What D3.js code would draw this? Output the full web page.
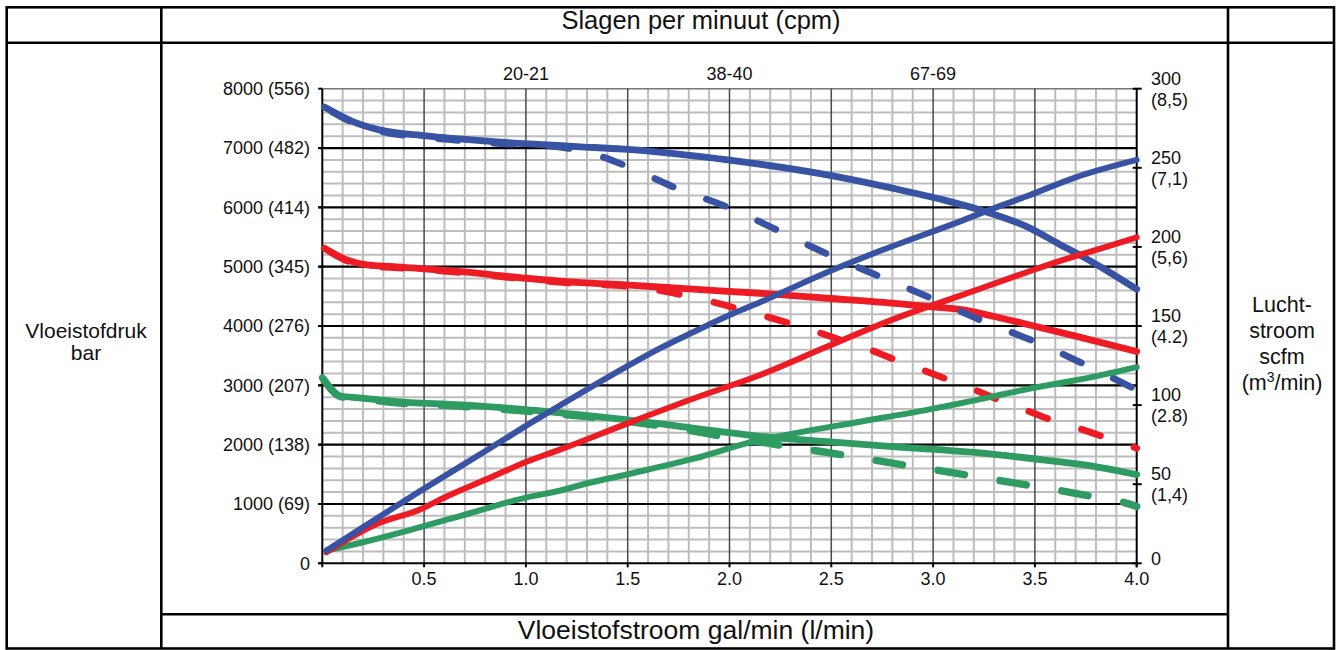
<!DOCTYPE html>
<html>
<head>
<meta charset="utf-8">
<script src="https://cdn.jsdelivr.net/npm/d3@7"></script>
<style>
  html, body { margin: 0; padding: 0; background: #fff; }
  svg { display: block; }
  text { font-family: "Liberation Sans", Arial, Helvetica, sans-serif; fill: #111; }
</style>
</head>
<body>
<svg id="chart" width="1336" height="650"></svg>
<script>
// ---------------- DATA ----------------
const flowTicks = [0.5, 1.0, 1.5, 2.0, 2.5, 3.0, 3.5, 4.0];
const flowTickLabels = ["0.5", "1.0", "1.5", "2.0", "2.5", "3.0", "3.5", "4.0"];
const pressureTicks = [0, 1000, 2000, 3000, 4000, 5000, 6000, 7000, 8000];
const pressureTickLabels = ["0", "1000 (69)", "2000 (138)", "3000 (207)", "4000 (276)",
  "5000 (345)", "6000 (414)", "7000 (482)", "8000 (556)"];
const airTicks = [0, 50, 100, 150, 200, 250, 300];
const airTickLabels = [["0"], ["50", "(1,4)"], ["100", "(2.8)"], ["150", "(4.2)"],
  ["200", "(5,6)"], ["250", "(7,1)"], ["300", "(8,5)"]];
const cpmPositions = [1.0, 2.0, 3.0];
const cpmLabels = ["20-21", "38-40", "67-69"];

const topTitle = "Slagen per minuut (cpm)";
const bottomTitle = "Vloeistofstroom gal/min (l/min)";
const leftTitle = ["Vloeistofdruk", "bar"];
const rightTitle = ["Lucht-", "stroom", "scfm"];

// fluid pressure (psi) vs flow (gal/min) — solid
const bluePressure = [[0.01,7690],[0.15,7446],[0.28,7306],[0.51,7205],[0.84,7109],[1.25,7024],[1.48,6980],[1.99,6800],[2.48,6547],[2.80,6323],[3.05,6126],[3.23,5957],[3.46,5675],[3.62,5380],[3.75,5140],[3.85,4940],[4.0,4620]];
const redPressure = [[0.01,5310],[0.12,5114],[0.22,5030],[0.35,5000],[0.68,4917],[1.0,4805],[1.27,4730],[1.49,4692],[1.82,4620],[2.15,4552],[2.48,4468],[2.80,4384],[2.97,4330],[3.13,4280],[3.3,4160],[3.46,4030],[3.7,3830],[4.0,3570]];
const greenPressure = [[0.0,3130],[0.09,2820],[0.18,2790],[0.35,2730],[0.68,2669],[1.0,2590],[1.27,2500],[1.49,2420],[1.82,2280],[2.15,2140],[2.48,2050],[2.80,1965],[3.23,1860],[3.46,1775],[3.79,1635],[4.0,1495]];

// fluid pressure — dashed
const blueDashed = [[0.01,7690],[0.15,7430],[0.28,7285],[0.51,7180],[0.84,7085],[1.2,7000],[1.37,6856],[1.5,6688],[1.74,6323],[2.0,5991],[2.25,5591],[2.49,5199],[2.74,4832],[2.99,4468],[3.23,4103],[3.5,3736],[3.75,3344],[4.0,2922]];
const redDashed = [[0.01,5310],[0.12,5100],[0.22,5010],[0.35,4985],[0.68,4900],[1.0,4790],[1.27,4710],[1.49,4670],[1.64,4608],[1.77,4520],[1.90,4420],[2.04,4290],[2.17,4170],[2.30,4040],[2.43,3900],[2.55,3760],[2.69,3600],[2.80,3450],[2.94,3270],[3.07,3100],[3.20,2930],[3.32,2760],[3.45,2590],[3.57,2430],[3.71,2280],[3.83,2140],[4.0,1940]];
const greenDashed = [[0.0,3130],[0.09,2810],[0.18,2775],[0.35,2710],[0.68,2645],[1.0,2565],[1.27,2480],[1.49,2395],[1.79,2248],[1.95,2150],[2.12,2060],[2.25,1990],[2.41,1905],[2.56,1825],[2.70,1745],[2.85,1660],[3.02,1570],[3.16,1490],[3.31,1405],[3.46,1320],[3.61,1235],[3.76,1140],[3.92,1040],[4.0,960]];

// air flow (scfm) vs fluid flow
const blueAir = [[0.02,8],[0.51,48],[0.84,74],[1.04,90],[1.17,100],[1.49,124],[1.66,136],[1.82,146],[2.02,158],[2.15,165],[2.48,184],[2.75,198],[3.13,216],[3.29,224],[3.46,232],[3.70,244],[4.0,255]];
const redAir = [[0.02,7],[0.27,25],[0.48,34],[0.59,41],[0.84,55],[1.0,64],[1.17,72],[1.49,88],[1.82,104],[2.15,119],[2.48,137],[2.80,154],[3.13,169],[3.46,184],[3.62,191],[3.85,200],[4.0,206]];
const greenAir = [[0.02,8],[0.19,13],[0.43,21],[0.68,30],[1.0,41.5],[1.17,46],[1.27,49.5],[1.49,56],[1.82,66],[2.15,78],[2.31,82],[2.64,89.5],[2.97,97],[3.13,101],[3.46,110],[3.79,118],[4.0,124]];

// flow value where a visible dash begins
const dashStarts = [1.365, 1.64, 1.79];

// ---------------- DRAW ----------------
const svg = d3.select("#chart");
const colors = { blue: "#3953a4", red: "#ed1c24", green: "#2e9b63" };

const x = d3.scaleLinear().domain([0, 4]).range([322.3, 1136.7]);
const y = d3.scaleLinear().domain([0, 8000]).range([563.3, 88.7]);
const yR = d3.scaleLinear().domain([0, 300]).range([563.3, 88.7]);

// table frame
const frame = svg.append("g").attr("stroke", "#000").attr("stroke-width", 2.6).attr("fill", "none");
frame.append("rect").attr("x", 6.7).attr("y", 7.3).attr("width", 1327.3).attr("height", 641.2);
frame.append("line").attr("x1", 161.3).attr("x2", 161.3).attr("y1", 7.3).attr("y2", 648.5);
frame.append("line").attr("x1", 1228).attr("x2", 1228).attr("y1", 7.3).attr("y2", 648.5);
frame.append("line").attr("x1", 6.7).attr("x2", 1334).attr("y1", 42.7).attr("y2", 42.7);
frame.append("line").attr("x1", 161.3).attr("x2", 1228).attr("y1", 614.3).attr("y2", 614.3);

// titles
svg.append("text").attr("x", 701).attr("y", 29).attr("text-anchor", "middle")
  .style("font-size", "25.5px").text(topTitle);
svg.append("text").attr("x", 696).attr("y", 638.5).attr("text-anchor", "middle")
  .style("font-size", "26.5px").text(bottomTitle);
leftTitle.forEach((t, i) => svg.append("text").attr("x", 86).attr("y", 338 + i * 22)
  .attr("text-anchor", "middle").style("font-size", "21px").text(t));
rightTitle.forEach((t, i) => svg.append("text").attr("x", 1282).attr("y", 312 + i * 26)
  .attr("text-anchor", "middle").style("font-size", "21.5px").text(t));
const unit = svg.append("text").attr("x", 1282).attr("y", 390).attr("text-anchor", "middle").style("font-size", "21.5px");
unit.append("tspan").text("(m");
unit.append("tspan").attr("dy", -8).style("font-size", "14px").text("3");
unit.append("tspan").attr("dy", 8).text("/min)");

// grid
const grid = svg.append("g");
const minorX = d3.range(1, 40).map(i => i / 10).filter(v => Math.abs(v * 2 - Math.round(v * 2)) > 1e-6);
const minorY = d3.range(1, 41).map(i => i * 200).filter(v => v % 1000 !== 0 || v === 8000);
grid.selectAll(".mx").data(minorX).join("line")
  .attr("x1", d => x(d)).attr("x2", d => x(d)).attr("y1", y(8000)).attr("y2", y(0))
  .attr("stroke", "#bdbdbd").attr("stroke-width", 2);
grid.selectAll(".my").data(minorY).join("line")
  .attr("x1", x(0)).attr("x2", x(4)).attr("y1", d => y(d)).attr("y2", d => y(d))
  .attr("stroke", d => d === 8000 ? "#777" : "#bdbdbd").attr("stroke-width", d => d === 8000 ? 1.5 : 2);
grid.selectAll(".Mx").data(flowTicks.filter(d => d < 4)).join("line")
  .attr("x1", d => x(d)).attr("x2", d => x(d)).attr("y1", y(8000)).attr("y2", y(0))
  .attr("stroke", "#4a4a4a").attr("stroke-width", 1.5);
grid.selectAll(".My").data(pressureTicks.filter(d => d > 0 && d < 8000)).join("line")
  .attr("x1", x(0) - 4).attr("x2", x(4)).attr("y1", d => y(d)).attr("y2", d => y(d))
  .attr("stroke", "#000").attr("stroke-width", 2.2);

// axes lines
const ax = svg.append("g").attr("stroke", "#000").attr("stroke-width", 2);
ax.append("line").attr("x1", x(0)).attr("x2", x(0)).attr("y1", y(8000)).attr("y2", y(0) + 4);
ax.append("line").attr("x1", x(0) - 4).attr("x2", x(4)).attr("y1", y(0)).attr("y2", y(0));
ax.append("line").attr("x1", x(4)).attr("x2", x(4)).attr("y1", yR(300)).attr("y2", yR(0) + 4);
ax.selectAll(".lt").data(pressureTicks).join("line")
  .attr("x1", x(0) - 4).attr("x2", x(0)).attr("y1", d => y(d)).attr("y2", d => y(d));
ax.selectAll(".bt").data(flowTicks).join("line")
  .attr("x1", d => x(d)).attr("x2", d => x(d)).attr("y1", y(0)).attr("y2", y(0) + 4);
ax.selectAll(".rt").data(airTicks).join("line")
  .attr("x1", x(4) - 4).attr("x2", x(4) + 5).attr("y1", d => yR(d)).attr("y2", d => yR(d));

// tick labels
svg.selectAll(".ll").data(pressureTicks).join("text")
  .attr("x", 310).attr("y", d => y(d)).attr("dy", "0.35em").attr("text-anchor", "end")
  .style("font-size", "18px").text((d, i) => pressureTickLabels[i]);
svg.selectAll(".bl").data(flowTicks).join("text")
  .attr("x", d => x(d)).attr("y", y(0) + 22).attr("text-anchor", "middle")
  .style("font-size", "18px").text((d, i) => flowTickLabels[i]);
svg.selectAll(".cl").data(cpmPositions).join("text")
  .attr("x", d => x(d)).attr("y", 79.5).attr("text-anchor", "middle")
  .style("font-size", "18px").text((d, i) => cpmLabels[i]);
airTicks.forEach((d, i) => {
  const lines = airTickLabels[i];
  const t = svg.append("text").attr("x", 1151).style("font-size", "18px");
  if (lines.length === 1) {
    t.attr("y", yR(d) - 5).attr("dy", "0.35em").text(lines[0]);
  } else {
    lines.forEach((s, j) => t.append("tspan").attr("x", 1151)
      .attr("y", yR(d) + (j === 0 ? -10.5 : 10.5)).attr("dy", "0.35em").text(s));
  }
});

// lines
const lineP = d3.line().x(d => x(d[0])).y(d => y(d[1])).curve(d3.curveMonotoneX);
const lineA = d3.line().x(d => x(d[0])).y(d => yR(d[1])).curve(d3.curveMonotoneX);
const plot = svg.append("g").attr("fill", "none").attr("stroke-linecap", "round").attr("stroke-linejoin", "round");

function lengthTo(data, xv) {
  const sub = data.filter(d => d[0] < xv);
  const j = data.findIndex(d => d[0] >= xv);
  const a = data[j - 1], b = data[j];
  sub.push([xv, a[1] + (b[1] - a[1]) * (xv - a[0]) / (b[0] - a[0])]);
  const tmp = svg.append("path").attr("d", lineP(sub));
  const L = tmp.node().getTotalLength();
  tmp.remove();
  return L;
}

const pressureSolid = [[greenPressure, colors.green], [redPressure, colors.red], [bluePressure, colors.blue]];
pressureSolid.forEach(([data, c]) => plot.append("path").attr("d", lineP(data))
  .attr("stroke", c).attr("stroke-width", 6.8));

const dashed = [[blueDashed, colors.blue, [20, 35.6], 6.8, dashStarts[0]],
                [redDashed, colors.red, [20, 35.6], 6.8, dashStarts[1]],
                [greenDashed, colors.green, [26.7, 36], 7.4, dashStarts[2]]];
dashed.forEach(([data, c, da, w, xs]) => {
  const off = -(lengthTo(data, xs) + w / 2);
  plot.append("path").attr("d", lineP(data)).attr("stroke", c).attr("stroke-width", w)
    .attr("stroke-dasharray", da.join(",")).attr("stroke-dashoffset", off);
});

const airLines = [[greenAir, colors.green], [redAir, colors.red], [blueAir, colors.blue]];
airLines.forEach(([data, c]) => plot.append("path").attr("d", lineA(data))
  .attr("stroke", c).attr("stroke-width", 6));
</script>
</body>
</html>
